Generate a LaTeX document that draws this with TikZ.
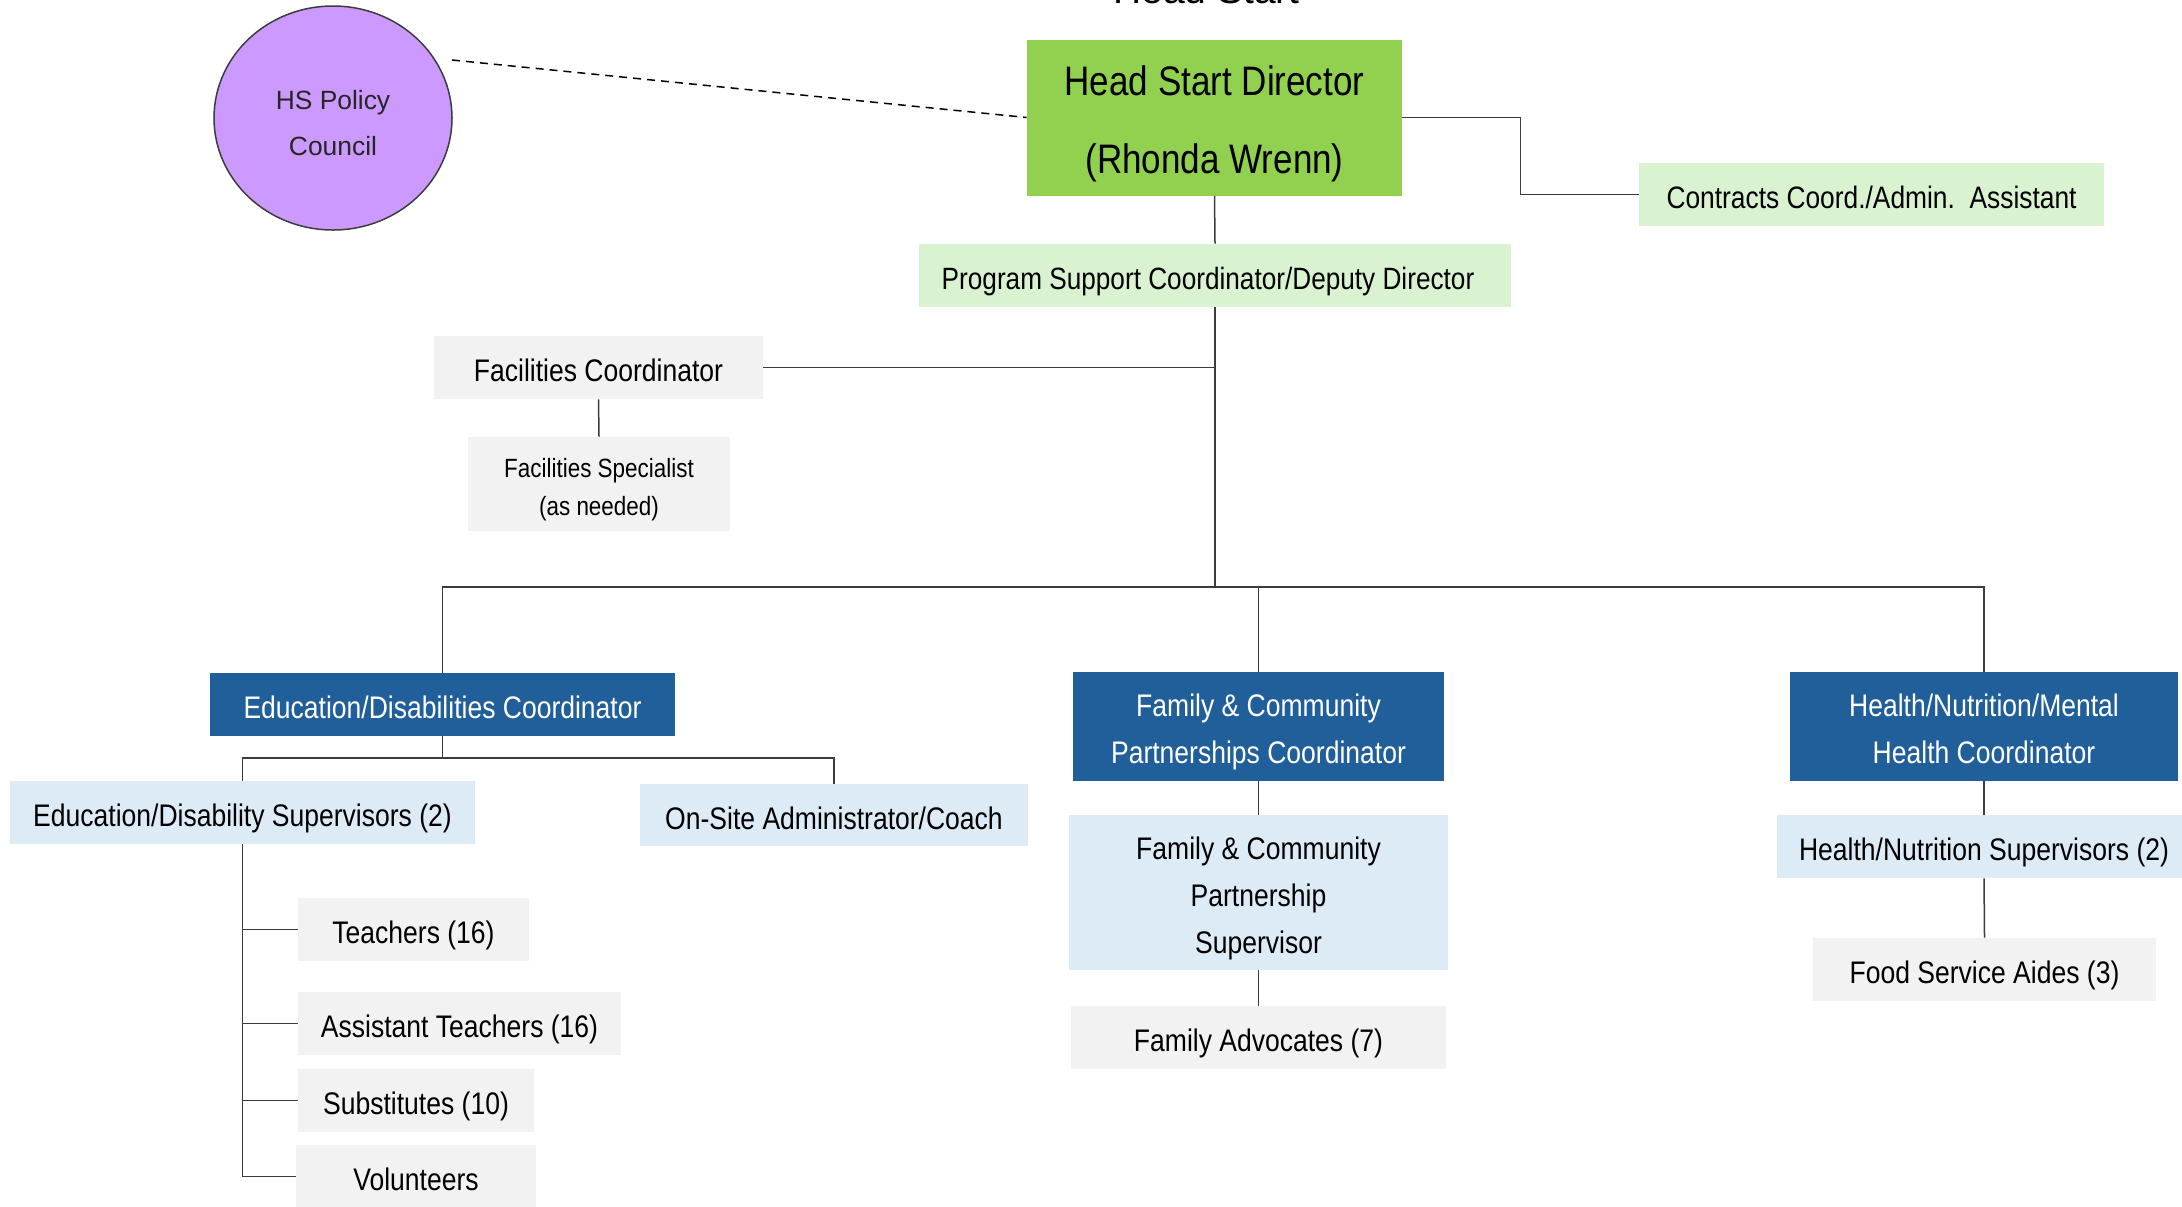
\documentclass[tikz,border=0pt]{standalone}
\usepackage{fontspec}
\setmainfont{Liberation Sans}[FakeStretch=0.85]
\newfontfamily\regfont{Liberation Sans}
\usetikzlibrary{shapes.geometric}
\definecolor{dirgreen}{RGB}{146,208,80}
\definecolor{litegreen}{RGB}{217,242,208}
\definecolor{liteblue}{RGB}{221,235,247}
\definecolor{litegray}{RGB}{242,242,242}
\definecolor{darkblue}{RGB}{33,95,154}
\definecolor{purple}{RGB}{204,153,255}
\definecolor{linegray}{RGB}{60,60,60}
\newcommand\boxtxt[2][2.4pt]{\raisebox{-#1}[\height][\depth]{\begin{tabular}{@{}c@{}}#2\end{tabular}}}
\begin{document}
\begin{tikzpicture}[x=0.5pt,y=-0.5pt,
  box/.style={rectangle, inner sep=0pt, text=black, font=\fontsize{15.6}{23.5}\selectfont},
  greenbox/.style={box, fill=litegreen},
  bluebox/.style={box, fill=liteblue},
  graybox/.style={box, fill=litegray},
  darkbox/.style={box, fill=darkblue, text=white},
  conn/.style={draw=linegray, line width=0.75pt}]
\clip (0,0) rectangle (2182,1206);
\fill[white] (0,0) rectangle (2182,1206);

% title (mostly outside the page)
\node[anchor=base, inner sep=0pt, font=\regfont\fontsize{19.5}{23}\selectfont] (title) at (1206.5,3) {Head Start};

% policy council
\node[ellipse, draw=linegray, line width=0.75pt, fill=purple, minimum width=119pt, minimum height=112pt, inner sep=0pt,
  font=\regfont\fontsize{13.2}{23}\selectfont, text=black!85] (policy) at (333,118) {\boxtxt[2.8pt]{HS Policy\\Council}};

% top level
\node[box, fill=dirgreen, minimum width=187.5pt, minimum height=77.5pt, font=\fontsize{20.6}{39}\selectfont] (dir) at (1214.5,117.5) {\boxtxt[0.7pt]{Head Start Director\\(Rhonda Wrenn)}};
\node[greenbox, minimum width=232.5pt, minimum height=31.5pt, font=\fontsize{15.5}{20}\selectfont] (contracts) at (1871.5,194.5) {\boxtxt[2.8pt]{Contracts Coord./Admin.\ \ Assistant}};
\node[greenbox, minimum width=296pt, minimum height=31.5pt, font=\fontsize{15.4}{23.5}\selectfont] (psc) at (1215,275.5) {\boxtxt[2.1pt]{Program Support Coordinator/Deputy Director\hspace*{7pt}}};

% facilities
\node[graybox, minimum width=164.5pt, minimum height=31.5pt] (fac) at (598.5,367.5) {\boxtxt{Facilities Coordinator}};
\node[graybox, minimum width=131pt, minimum height=47pt, font=\fontsize{13.2}{19}\selectfont] (facspec) at (599,484) {\boxtxt{Facilities Specialist\\(as needed)}};

% coordinators
\node[darkbox, minimum width=232.5pt, minimum height=31.5pt] (edu) at (442.5,704.5) {\boxtxt{Education/Disabilities Coordinator}};
\node[darkbox, minimum width=185.5pt, minimum height=54.5pt] (fam) at (1258.5,726.5) {\boxtxt[2.1pt]{Family \& Community\\Partnerships Coordinator}};
\node[darkbox, minimum width=194pt, minimum height=54.5pt] (health) at (1984,726.5) {\boxtxt[2.1pt]{Health/Nutrition/Mental\\Health Coordinator}};

% education branch
\node[bluebox, minimum width=232.5pt, minimum height=31.5pt] (edusup) at (242.5,812.5) {\boxtxt{Education/Disability Supervisors (2)}};
\node[bluebox, minimum width=194pt, minimum height=31pt] (onsite) at (834,815) {\boxtxt{On-Site Administrator/Coach}};
\node[graybox, minimum width=115.5pt, minimum height=31.5pt] (teachers) at (413.5,929.5) {\boxtxt{Teachers (16)}};
\node[graybox, minimum width=161.5pt, minimum height=31.5pt] (asst) at (459.5,1023.5) {\boxtxt{Assistant Teachers (16)}};
\node[graybox, minimum width=118pt, minimum height=31.5pt] (subs) at (416,1100.5) {\boxtxt{Substitutes (10)}};
\node[graybox, minimum width=120pt, minimum height=31.5pt] (vol) at (416,1176.5) {\boxtxt{Volunteers}};

% family branch
\node[bluebox, minimum width=189.5pt, minimum height=77.5pt] (famsup) at (1258.5,892.5) {\boxtxt{Family \& Community\\Partnership\\Supervisor}};
\node[graybox, minimum width=187.5pt, minimum height=31.5pt] (famadv) at (1258.5,1037.5) {\boxtxt{Family Advocates (7)}};

% health branch
\node[bluebox, minimum width=207pt, minimum height=31.5pt] (healthsup) at (1984,846.5) {\boxtxt{Health/Nutrition Supervisors (2)}};
\node[graybox, minimum width=171.5pt, minimum height=31.5pt] (food) at (1984.5,969.5) {\boxtxt{Food Service Aides (3)}};

% helper coordinates
\coordinate (dashStart) at (452,60);
\coordinate (busC) at (1215,587);
\coordinate (eduBus) at (442.5,758);

% connectors
\draw[conn, dashed, draw=black, dash pattern=on 4pt off 3pt] (dashStart) -- (dir.west);
\draw[conn] (dir.east) -- ++(118,0) |- (contracts.west);
\draw[conn] (dir.south) -- (psc.north);
\draw[conn] (psc.south) -- (busC);
\draw[conn] (fac.east) -- (psc.south |- fac.east);
\draw[conn] (fac.south) -- (facspec.north);
\draw[conn] (edu.north) |- (busC) -| (fam.north);
\draw[conn] (busC) -| (health.north);
\draw[conn] (edu.south) -- (eduBus);
\draw[conn] (edusup.north) |- (eduBus) -| (onsite.north);
\draw[conn] (edusup.south) |- (vol.west);
\draw[conn] (edusup.south |- teachers.west) -- (teachers.west);
\draw[conn] (edusup.south |- asst.west) -- (asst.west);
\draw[conn] (edusup.south |- subs.west) -- (subs.west);
\draw[conn] (fam.south) -- (famsup.north);
\draw[conn] (famsup.south) -- (famadv.north);
\draw[conn] (health.south) -- (healthsup.north);
\draw[conn] (healthsup.south) -- (food.north);
\end{tikzpicture}
\end{document}
